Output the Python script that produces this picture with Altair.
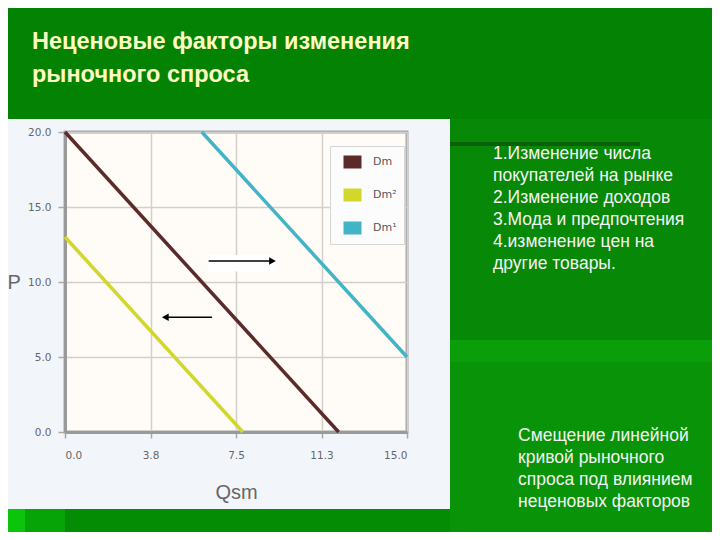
import altair as alt
import pandas as pd

# ---------------- data ----------------
series_names = ["Dm", "Dm²", "Dm¹"]
series_colors = ["#5b2b2b", "#d2d72e", "#43b4c5"]

dm_q = [0.0, 12.0]
dm_p = [20.0, 0.0]
dm2_q = [0.0, 7.8]
dm2_p = [13.0, 0.0]
dm1_q = [6.0, 15.0]
dm1_p = [20.0, 5.0]

x_ticks = [0, 3.75, 7.5, 11.25, 15]
y_ticks = [0, 5, 10, 15, 20]

arrow_dir = ["r", "l"]
arrow_q_start = [6.3, 6.45]
arrow_q_end = [9.1, 4.4]
arrow_p = [11.4, 7.65]

box_q = [6.25, 9.2]
box_p = [10.7, 11.8]

title_lines = ["Неценовые факторы изменения", "рыночного спроса"]
factor_lines = [
    "1.Изменение числа",
    "покупателей на рынке",
    "2.Изменение доходов",
    "3.Мода и предпочтения",
    "4.изменение цен на",
    "другие товары.",
]
note_lines = [
    "Смещение линейной",
    "кривой рыночного",
    "спроса под влиянием",
    "неценовых факторов",
]

# ---------------- tables ----------------
rows = []
for name, qs, ps in zip(series_names, [dm_q, dm2_q, dm1_q], [dm_p, dm2_p, dm1_p]):
    for q, p in zip(qs, ps):
        rows.append({"series": name, "q": q, "p": p})
lines_df = pd.DataFrame(rows)

arrows_df = pd.DataFrame({"dir": arrow_dir, "q": arrow_q_start, "q2": arrow_q_end, "p": arrow_p})
box_df = pd.DataFrame({"q": [box_q[0]], "q2": [box_q[1]], "p": [box_p[0]], "p2": [box_p[1]]})
one = pd.DataFrame({"k": [0]})

W, H = 342, 300

xs = alt.Scale(domain=[0, 15], nice=False, zero=False)
ys = alt.Scale(domain=[0, 20], nice=False, zero=False)

x_axis = alt.Axis(values=x_ticks, format=".1f", title="Qsm", titleX=W / 2, titleY=66,
                  titleAlign="center", titleBaseline="alphabetic", tickSize=6, labelPadding=12)
y_axis = alt.Axis(values=y_ticks, format=".1f", title="P", titleAngle=0, titleX=-58, titleY=150,
                  titleAlign="left", titleBaseline="middle", tickSize=7, labelPadding=7)


def block(x0, x1, y0, y1, color):
    return alt.Chart(one).mark_rect(color=color).encode(
        x=alt.value(x0), x2=alt.value(x1), y=alt.value(y0), y2=alt.value(y1)
    )


greens = [
    block(-57, 647, -124, -13, "#038203"),
    block(385, 647, -13, 400, "#078807"),
    block(385, 647, 208, 230, "#0b9e0b"),
    block(385, 647, 230, 400, "#089308"),
    block(385, 575, 10, 14, "#0c600c"),
    block(-57, 385, 377, 400, "#058c05"),
    block(-57, -40, 377, 400, "#0cc40c"),
    block(-40, 0, 377, 400, "#07a407"),
]

white_box = alt.Chart(box_df).mark_rect(color="white").encode(
    x=alt.X("q:Q", scale=xs, axis=x_axis), x2="q2:Q",
    y=alt.Y("p:Q", scale=ys, axis=y_axis), y2="p2:Q",
)

lines = alt.Chart(lines_df).mark_line(strokeWidth=3.5).encode(
    x=alt.X("q:Q", scale=xs, axis=x_axis),
    y=alt.Y("p:Q", scale=ys, axis=y_axis),
    color=alt.Color(
        "series:N",
        scale=alt.Scale(domain=series_names, range=series_colors),
        legend=alt.Legend(
            title=None, orient="none", legendX=265, legendY=14,
            symbolType="stroke", symbolSize=324, symbolStrokeWidth=13,
            clipHeight=18,
            labelFont="DejaVu Sans", labelFontSize=11, labelColor="#555555",
            labelOffset=5, rowPadding=15, padding=7,
            fillColor="#fcfcfc", strokeColor="#d6d6d6",
        ),
    ),
    detail="series:N",
)

arrow_rules = alt.Chart(arrows_df).mark_rule(color="black", strokeWidth=1.3).encode(
    x="q:Q", x2="q2:Q", y="p:Q"
)
arrow_heads = alt.Chart(arrows_df).mark_point(filled=True, size=60, color="black", opacity=1).encode(
    x="q2:Q", y="p:Q",
    shape=alt.Shape("dir:N", scale=alt.Scale(domain=["r", "l"], range=["triangle-right", "triangle-left"]), legend=None),
)

title_text = alt.Chart(pd.DataFrame({"t": ["\n".join(title_lines)]})).mark_text(
    align="left", baseline="alphabetic", font="Liberation Sans",
    fontWeight="bold", fontSize=23.5, lineHeight=33, lineBreak="\n", color="#ffffc4",
).encode(x=alt.value(-33), y=alt.value(-83), text="t:N")

factor_text = alt.Chart(pd.DataFrame({"t": ["\n".join(factor_lines)]})).mark_text(
    align="left", baseline="alphabetic", font="Liberation Sans",
    fontSize=17.5, lineHeight=22, lineBreak="\n", color="#f4f4f4",
).encode(x=alt.value(428), y=alt.value(27), text="t:N")

note_text = alt.Chart(pd.DataFrame({"t": ["\n".join(note_lines)]})).mark_text(
    align="left", baseline="alphabetic", font="Liberation Sans",
    fontSize=17.5, lineHeight=22, lineBreak="\n", color="#f4f4f4",
).encode(x=alt.value(453), y=alt.value(309), text="t:N")

chart = alt.layer(
    *greens, white_box, lines, arrow_rules, arrow_heads,
    title_text, factor_text, note_text,
).properties(
    width=W, height=H,
    padding={"left": 57, "top": 124, "right": 305, "bottom": 100},
    autosize=alt.AutoSizeParams(type="none"),
).configure(
    background="#f2f6fa",
).configure_view(
    fill="#fffbf6", stroke="#a6a6a6", strokeWidth=3,
).configure_axis(
    domainColor="#9a9a9a", domainWidth=3,
    gridColor="#d3cfca", gridWidth=1.5,
    tickColor="#a8a8a8", tickWidth=1.5,
    labelFont="DejaVu Sans", labelFontSize=10.5, labelColor="#666666",
    titleFont="Liberation Sans", titleFontWeight="normal", titleFontSize=20, titleColor="#666666",
)

chart.save("out.html", embed_options={"renderer": "svg", "actions": False})
